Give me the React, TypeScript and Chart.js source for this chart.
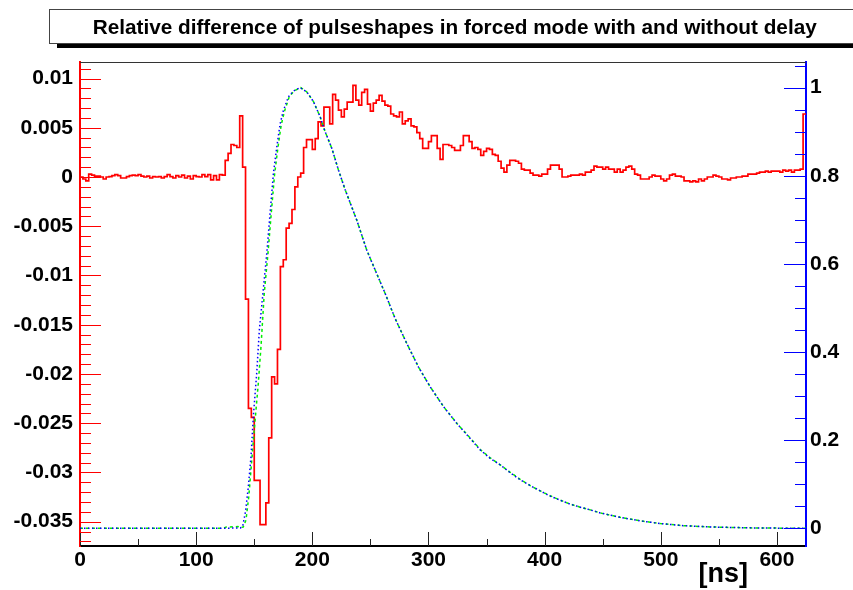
import React, { useEffect, useRef } from "react";
import { Chart, registerables } from "chart.js";

Chart.register(...registerables);

const TITLE = "Relative difference of pulseshapes in forced mode with and without delay";
const X_TITLE = "[ns]";

const X_MIN = 0;
const X_MAX = 625;
const BIN_WIDTH = 2.5;

// Relative difference per 2.5 ns bin (left axis), 250 bins
const redDiff = [
  0, -0.0002, -0.0004, 0.0003, 0.0002, 0.0001, 0.0001, 0, -0.0002, 0,
  0.00005, 0.00015, 0.00025, 0.00015, -0.0001, -0.0001, 0.00005, 0.00015, 0.0002, 0.00015,
  0.00025, 0.0001, 0, 0.0001, -0.0001, 0.00005, 0, 0.00005, -0.0001, 0.00005,
  0.00025, 0.00005, -0.0001, 0.00015, 0, 0.0002, -0.0001, 0.0001, -0.0002, 0.00015,
  0.00005, 0, 0.00025, 0.00005, 0.00025, -0.0003, 0.00015, -0.0003, 0.00025,
  0.0002,
  0.0017, 0.0024, 0.0033, 0.0032, 0.003, 0.0062, 0.001, -0.0124, -0.0235, -0.0244,
  -0.0308, -0.0308, -0.0353, -0.0353, -0.0331, -0.0265, -0.0203, -0.021, -0.0175, -0.0091,
  -0.0084, -0.0052, -0.0047, -0.0033, -0.001, 0, 0.0004, 0.003, 0.0038, 0.0038,
  0.0028, 0.0039, 0.0056, 0.0052, 0.0071, 0.0071, 0.0054, 0.0084, 0.0078,
  0.0068, 0.0061, 0.0069, 0.0076, 0.0076, 0.0093, 0.0078, 0.0073, 0.0086, 0.0089,
  0.0074, 0.0067, 0.0075, 0.0078, 0.0083, 0.0077, 0.0073, 0.0072, 0.0064, 0.0062,
  0.0061, 0.0066, 0.0054, 0.0057, 0.0059, 0.0052, 0.0051, 0.0045, 0.0039, 0.0029,
  0.0029, 0.0036, 0.0042, 0.0042, 0.0029, 0.0018, 0.0033, 0.0033, 0.0032, 0.003,
  0.0027, 0.0027, 0.0032, 0.0042, 0.0042, 0.0036, 0.0029, 0.003, 0.0028, 0.0022,
  0.0026, 0.0029, 0.0028, 0.0023, 0.0022, 0.0016, 0.0009, 0.0005, 0.0012, 0.0017,
  0.0017, 0.0016, 0.0014, 0.0008, 0.0007, 0.0007, 0.0004, 0.0002, 0.0002, 0.0001,
  0.0003, 0.0003, 0.0008, 0.0012, 0.0012, 0.0012, 0.0008, 0, 0, 0.0001,
  0.0002, 0.0002, 0.0002, 0.0003, 0.0002, 0.0005, 0.0005, 0.0007, 0.0011, 0.001,
  0.001, 0.0008, 0.001, 0.0008, 0.0008, 0.0005, 0.0008, 0.0005, 0.0007, 0.001,
  0.0011, 0.0008, 0.0003, 0.0002, -0.0002, -0.0002, -0.0002, 0, 0.0002, 0.0001,
  0.0001, -0.0002, -0.0004, -0.0002, 0.0002, 0.0003, 0.0001, 0.0001, 0, -0.0004,
  -0.0004, -0.0005, -0.0004, -0.0005, -0.0002, -0.0004, -0.0002, 0, 0, 0.0002,
  0.0001, 0, -0.0002, -0.0002, -0.0003, -0.0001, -0.0001, 0, 0, 0.0001,
  0.0001, 0.0003, 0.0003, 0.0003, 0.0004, 0.0005, 0.0005, 0.0006, 0.0005, 0.0006,
  0.0006, 0.0006, 0.0005, 0.0007, 0.0006, 0.0007, 0.0005, 0.0007, 0.0007, 0.0008,
  0.0064,
];

// Normalised pulse shape without delay (blue dotted, right axis)
const blueNs = [
  0, 40, 80, 120, 138, 140, 142.6, 144.9, 147.2, 149.2, 152.1, 154.4, 157, 160.8,
  163.6, 166.5, 169.4, 172.3, 175.1, 179.4, 183.7, 189.5, 195.3, 201, 206.7, 211,
  216.8, 222.5, 228.3, 238.3, 246.9, 254.1, 262.7, 271.3, 281.4, 291.4, 301.5, 313,
  324.5, 335.9, 344.5, 353.1, 361.8, 370.4, 379, 387.6, 396.2, 404.8, 413.4, 422,
  430.7, 439.3, 447.9, 456.5, 465.1, 473.7, 482.3, 491, 499.6, 520, 545, 580, 625,
];
const blueVal = [
  0, 0, 0, 0, 0.001, 0.004, 0.04, 0.094, 0.162, 0.253, 0.351, 0.45, 0.52, 0.624,
  0.714, 0.805, 0.865, 0.918, 0.948, 0.979, 0.992, 1.0, 0.99, 0.968, 0.934, 0.9,
  0.862, 0.813, 0.768, 0.699, 0.631, 0.586, 0.533, 0.476, 0.419, 0.366, 0.321, 0.276,
  0.238, 0.204, 0.178, 0.159, 0.144, 0.126, 0.11, 0.097, 0.085, 0.073, 0.064, 0.055,
  0.048, 0.042, 0.035, 0.03, 0.025, 0.021, 0.017, 0.014, 0.011, 0.006, 0.003, 0.001, 0,
];

// Normalised pulse shape with delay (green dashed, right axis)
const greenNs = [
  0, 40, 80, 120, 124, 126, 136, 138, 140.5, 142.9, 145.3, 148.2, 150, 153.5, 155.8,
  158.6, 161.7, 164.5, 167.4, 170.3, 173.2, 176, 180, 184, 190, 195.3, 201, 206.7,
  211, 216.8, 222.5, 228.3, 238.3, 246.9, 254.1, 262.7, 271.3, 281.4, 291.4, 301.5,
  313, 324.5, 335.9, 344.5, 353.1, 361.8, 370.4, 379, 387.6, 396.2, 404.8, 413.4,
  422, 430.7, 439.3, 447.9, 456.5, 465.1, 473.7, 482.3, 491, 499.6, 520, 545, 580, 625,
];
const greenVal = [
  0, 0, 0, 0, 0.001, 0.003, 0.004, 0.002, 0.003, 0.019, 0.072, 0.165, 0.223, 0.329,
  0.412, 0.533, 0.62, 0.71, 0.8, 0.862, 0.915, 0.946, 0.978, 0.992, 1.0, 0.99, 0.968,
  0.934, 0.9, 0.862, 0.813, 0.768, 0.699, 0.631, 0.586, 0.533, 0.476, 0.419, 0.366,
  0.321, 0.276, 0.238, 0.205, 0.179, 0.16, 0.144, 0.127, 0.111, 0.097, 0.085, 0.074,
  0.064, 0.055, 0.048, 0.042, 0.035, 0.03, 0.025, 0.021, 0.017, 0.014, 0.011, 0.006,
  0.003, 0.001, 0,
];

const xTickValues = [0, 100, 200, 300, 400, 500, 600];
const xTickLabels = ["0", "100", "200", "300", "400", "500", "600"];
const xMinorValues = [50, 150, 250, 350, 450, 550];

const leftTickValues = [0.01, 0.005, 0, -0.005, -0.01, -0.015, -0.02, -0.025, -0.03, -0.035];
const leftTickLabels = ["0.01", "0.005", "0", "-0.005", "-0.01", "-0.015", "-0.02", "-0.025", "-0.03", "-0.035"];
const leftMin = -0.03747;
const leftMax = 0.01168;
const leftMinorStep = 0.001;

const rightTickValues = [0, 0.2, 0.4, 0.6, 0.8, 1];
const rightTickLabels = ["0", "0.2", "0.4", "0.6", "0.8", "1"];
const rightMin = -0.04;
const rightMax = 1.058;
const rightMinorStep = 0.05;

const FONT = '"Liberation Sans", Arial, Helvetica, sans-serif';

function minorValues(min: number, max: number, step: number, majors: number[]) {
  const out: number[] = [];
  const start = Math.ceil(min / step - 1e-9);
  const end = Math.floor(max / step + 1e-9);
  for (let k = start; k <= end; k++) {
    const v = k * step;
    if (!majors.some((m) => Math.abs(m - v) < step / 10)) out.push(v);
  }
  return out;
}

const decorPlugin = {
  id: "decor",
  beforeDraw(chart: any) {
    const ctx = chart.ctx;
    ctx.save();
    ctx.fillStyle = "#ffffff";
    ctx.fillRect(0, 0, chart.width, chart.height);
    ctx.restore();
  },
  afterDraw(chart: any) {
    const ctx = chart.ctx;
    const { left, right, top, bottom } = chart.chartArea;
    const xs = chart.scales.x;
    const yl = chart.scales.yL;
    const yr = chart.scales.yR;
    ctx.save();

    // top frame line
    ctx.strokeStyle = "#333333";
    ctx.lineWidth = 1;
    ctx.beginPath();
    ctx.moveTo(left, top + 0.5);
    ctx.lineTo(right, top + 0.5);
    ctx.stroke();

    // x ticks
    ctx.strokeStyle = "#222222";
    ctx.lineWidth = 1;
    const drawX = (vals: number[], len: number) => {
      vals.forEach((v) => {
        const px = Math.round(xs.getPixelForValue(v)) + 0.5;
        ctx.beginPath();
        ctx.moveTo(px, bottom);
        ctx.lineTo(px, bottom - len);
        ctx.stroke();
      });
    };
    drawX(xTickValues, 14);
    drawX(xMinorValues, 7);

    // left ticks
    ctx.strokeStyle = "#ff0000";
    const drawL = (vals: number[], len: number) => {
      vals.forEach((v) => {
        const py = Math.round(yl.getPixelForValue(v)) + 0.5;
        ctx.beginPath();
        ctx.moveTo(left, py);
        ctx.lineTo(left + len, py);
        ctx.stroke();
      });
    };
    drawL(leftTickValues, 21);
    drawL(minorValues(leftMin, leftMax, leftMinorStep, leftTickValues), 11);

    // right ticks
    ctx.strokeStyle = "#0000ff";
    const drawR = (vals: number[], len: number) => {
      vals.forEach((v) => {
        const py = Math.round(yr.getPixelForValue(v)) + 0.5;
        ctx.beginPath();
        ctx.moveTo(right, py);
        ctx.lineTo(right - len, py);
        ctx.stroke();
      });
    };
    drawR(rightTickValues, 22);
    drawR(minorValues(rightMin, rightMax, rightMinorStep, rightTickValues), 11);

    // title box with shadow
    ctx.fillStyle = "#000000";
    ctx.fillRect(57, 43, chart.width - 57, 5);
    ctx.fillStyle = "#ffffff";
    ctx.fillRect(49, 9, chart.width, 34);
    ctx.strokeStyle = "#444444";
    ctx.lineWidth = 1;
    ctx.strokeRect(49.5, 9.5, chart.width, 34);

    // title text
    ctx.fillStyle = "#000000";
    ctx.font = `bold 20px ${FONT}`;
    const w20 = ctx.measureText(TITLE).width;
    const size = (20 * 724) / w20;
    ctx.font = `bold ${size.toFixed(2)}px ${FONT}`;
    ctx.textAlign = "center";
    ctx.textBaseline = "alphabetic";
    ctx.fillText(TITLE, 454.7, 33.5);

    // x axis title
    ctx.font = `bold 27px ${FONT}`;
    ctx.textAlign = "right";
    ctx.fillText(X_TITLE, 748, 582);

    ctx.restore();
  },
};

export default function App() {
  const canvasRef = useRef<HTMLCanvasElement | null>(null);

  useEffect(() => {
    document.body.style.margin = "0";
    const canvas = canvasRef.current;
    if (!canvas) return;

    const redPoints = redDiff.map((v, i) => ({ x: X_MIN + i * BIN_WIDTH, y: v }));
    redPoints.push({ x: X_MAX, y: redDiff[redDiff.length - 1] });
    const bluePoints = blueNs.map((x, i) => ({ x, y: blueVal[i] }));
    const greenPoints = greenNs.map((x, i) => ({ x, y: greenVal[i] }));

    const tickFont = { family: FONT, size: 21, weight: "bold" as const };

    const chart = new Chart(canvas, {
      type: "line",
      data: {
        datasets: [
          {
            label: "without delay",
            data: bluePoints,
            yAxisID: "yR",
            borderColor: "#0000ff",
            borderWidth: 1.5,
            borderDash: [1.5, 2.5],
            pointRadius: 0,
            tension: 0,
            fill: false,
          },
          {
            label: "with delay",
            data: greenPoints,
            yAxisID: "yR",
            borderColor: "#00ee00",
            borderWidth: 1.5,
            borderDash: [3, 3],
            pointRadius: 0,
            tension: 0,
            fill: false,
          },
          {
            label: "relative difference",
            data: redPoints,
            yAxisID: "yL",
            borderColor: "#ff0000",
            borderWidth: 1.7,
            stepped: "before",
            pointRadius: 0,
            fill: false,
          },
        ],
      },
      options: {
        animation: false,
        responsive: false,
        maintainAspectRatio: false,
        devicePixelRatio: 1,
        layout: { padding: { top: 62, left: 0, right: 0, bottom: 0 } },
        plugins: {
          legend: { display: false },
          tooltip: { enabled: false },
          title: { display: false },
        },
        scales: {
          x: {
            type: "linear",
            position: "bottom",
            min: X_MIN,
            max: X_MAX,
            grid: { display: false, drawTicks: false },
            border: { display: true, color: "#000000", width: 2 },
            afterBuildTicks: (scale: any) => {
              scale.ticks = xTickValues.map((v) => ({ value: v }));
            },
            afterFit: (scale: any) => {
              scale.height = 44;
            },
            ticks: {
              autoSkip: false,
              maxRotation: 0,
              padding: 2,
              color: "#000000",
              font: tickFont,
              callback: (_v: any, i: number) => xTickLabels[i],
            },
          },
          yL: {
            type: "linear",
            position: "left",
            min: leftMin,
            max: leftMax,
            grid: { display: false, drawTicks: false },
            border: { display: true, color: "#ff0000", width: 2 },
            afterBuildTicks: (scale: any) => {
              scale.ticks = leftTickValues.map((v) => ({ value: v }));
            },
            afterFit: (scale: any) => {
              scale.width = 80;
            },
            ticks: {
              autoSkip: false,
              padding: 7,
              color: "#000000",
              font: tickFont,
              callback: (_v: any, i: number) => leftTickLabels[i],
            },
          },
          yR: {
            type: "linear",
            position: "right",
            min: rightMin,
            max: rightMax,
            grid: { display: false, drawTicks: false },
            border: { display: true, color: "#0000ff", width: 2 },
            afterBuildTicks: (scale: any) => {
              scale.ticks = rightTickValues.map((v) => ({ value: v }));
            },
            afterFit: (scale: any) => {
              scale.width = 47;
            },
            ticks: {
              autoSkip: false,
              padding: 4,
              color: "#000000",
              font: tickFont,
              callback: (_v: any, i: number) => rightTickLabels[i],
            },
          },
        },
      },
      plugins: [decorPlugin],
    } as any);

    return () => {
      chart.destroy();
    };
  }, []);

  return (
    <div style={{ width: 853, height: 590 }}>
      <canvas ref={canvasRef} width={853} height={590} style={{ display: "block" }} />
    </div>
  );
}
